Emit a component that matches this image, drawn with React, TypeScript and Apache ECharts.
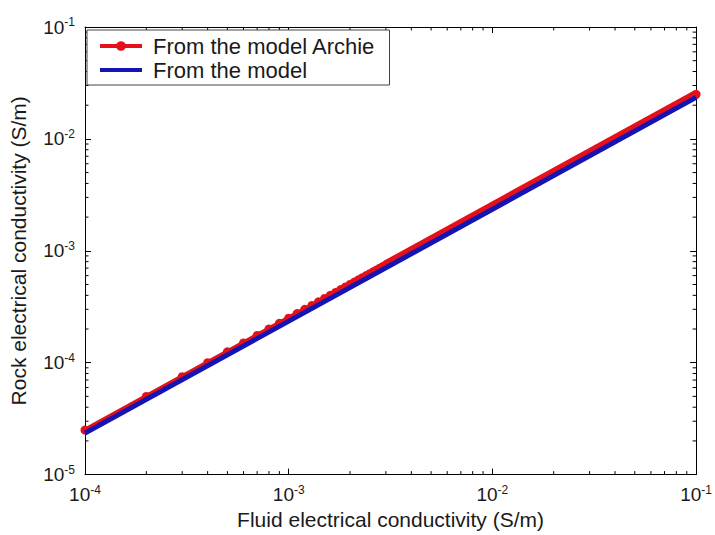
import React, { useEffect, useRef } from "react";
import * as echarts from "echarts";

// Axis bounds (decades)
const X_MIN = 1e-4;
const X_MAX = 1e-1;
const Y_MIN = 1e-5;
const Y_MAX = 1e-1;

// "From the model Archie": sampled points (markers)
const archieX = [
  0.0001, 0.0002, 0.0003, 0.0004, 0.0005, 0.0006, 0.0007, 0.0008, 0.0009, 0.001,
  0.0011, 0.0012, 0.0013, 0.0014, 0.0015, 0.0016, 0.0017, 0.0018, 0.0019, 0.002,
  0.0021, 0.0022, 0.0023, 0.0024, 0.0025, 0.0026, 0.0027, 0.0028, 0.0029, 0.003,
  0.1,
];
const archieY = [
  0.000025, 0.00005, 0.000075, 0.0001, 0.000125, 0.00015, 0.000175, 0.0002, 0.000225, 0.00025,
  0.000275, 0.0003, 0.000325, 0.00035, 0.000375, 0.0004, 0.000425, 0.00045, 0.000475, 0.0005,
  0.000525, 0.00055, 0.000575, 0.0006, 0.000625, 0.00065, 0.000675, 0.0007, 0.000725, 0.00075,
  0.025,
];
// Dense-marker band of the Archie curve (markers merge into a thick line)
const archieBandX = [0.003, 0.1];
const archieBandY = [0.00075, 0.025];

// "From the model"
const modelX = [0.0001, 0.1];
const modelY = [0.0000235, 0.0235];

// Minor tick positions
const xMinorTicks = [
  0.0002, 0.0003, 0.0004, 0.0005, 0.0006, 0.0007, 0.0008, 0.0009,
  0.002, 0.003, 0.004, 0.005, 0.006, 0.007, 0.008, 0.009,
  0.02, 0.03, 0.04, 0.05, 0.06, 0.07, 0.08, 0.09,
];
const yMinorTicks = [
  0.00002, 0.00003, 0.00004, 0.00005, 0.00006, 0.00007, 0.00008, 0.00009,
  0.0002, 0.0003, 0.0004, 0.0005, 0.0006, 0.0007, 0.0008, 0.0009,
  0.002, 0.003, 0.004, 0.005, 0.006, 0.007, 0.008, 0.009,
  0.02, 0.03, 0.04, 0.05, 0.06, 0.07, 0.08, 0.09,
];

const FONT = "'Liberation Sans', Arial, Helvetica, sans-serif";
const TXT = "#1a1a1a";
const RED = "#e5101a";
const BLUE = "#1414b4";

const zip = (a: number[], b: number[]) => a.map((v, i) => [v, b[i]]);

const expLabel = (v: number) => `{b|10}{s|${Math.round(Math.log10(v))}}`;
const labelRich = {
  b: { fontSize: 19, fontFamily: FONT, color: TXT, lineHeight: 22 },
  s: { fontSize: 12, fontFamily: FONT, color: TXT, verticalAlign: "top", lineHeight: 14 },
};

export default function App() {
  const ref = useRef<HTMLDivElement>(null);
  useEffect(() => {
    if (!ref.current) return;
    const chart = echarts.init(ref.current, null, { renderer: "svg" });

    const tickData = [
      ...xMinorTicks.map((v) => [v, Y_MIN, 0]),
      ...yMinorTicks.map((v) => [X_MIN, v, 1]),
    ];

    const commonLog = {
      type: "log" as const,
      logBase: 10,
      axisLine: { show: true, lineStyle: { color: "#000", width: 1 } },
      axisTick: { show: true, inside: true, length: 6, lineStyle: { color: "#000" } },
      splitLine: { show: false },
      minorTick: { show: false },
    };

    chart.setOption({
      animation: false,
      backgroundColor: "#fff",
      grid: { left: 80, right: 16, top: 27, bottom: 57, containLabel: false },
      legend: {
        data: [
          { name: "From the model Archie", lineStyle: { width: 4 } },
          { name: "From the model", lineStyle: { width: 4 }, itemStyle: { color: "rgba(0,0,0,0)", opacity: 0 } },
        ],
        orient: "vertical",
        left: 87,
        top: 30,
        itemWidth: 42,
        itemHeight: 12,
        itemGap: 0,
        padding: [4, 14, 3, 11],
        borderColor: "#444",
        borderWidth: 1,
        backgroundColor: "#fff",
        borderRadius: 0,
        textStyle: {
          fontSize: 22,
          fontFamily: FONT,
          color: TXT,
          lineHeight: 24,
          padding: [0, 0, 0, 6],
        },
      },
      xAxis: [
        {
          ...commonLog,
          min: X_MIN,
          max: X_MAX,
          position: "bottom",
          name: "Fluid electrical conductivity (S/m)",
          nameLocation: "middle",
          nameGap: 33,
          nameTextStyle: { fontSize: 21, fontFamily: FONT, color: TXT },
          axisLabel: { margin: 9, fontSize: 19, fontFamily: FONT, color: TXT, formatter: expLabel, rich: labelRich },
        },
        {
          ...commonLog,
          min: X_MIN,
          max: X_MAX,
          position: "top",
          axisLabel: { show: false },
        },
      ],
      yAxis: [
        {
          ...commonLog,
          min: Y_MIN,
          max: Y_MAX,
          position: "left",
          name: "Rock electrical conductivity (S/m)",
          nameLocation: "middle",
          nameGap: 56,
          nameTextStyle: { fontSize: 21, fontFamily: FONT, color: TXT },
          axisLabel: { margin: 10, fontSize: 19, fontFamily: FONT, color: TXT, formatter: expLabel, rich: labelRich },
        },
        {
          ...commonLog,
          min: Y_MIN,
          max: Y_MAX,
          position: "right",
          axisLabel: { show: false },
        },
      ],
      series: [
        {
          type: "custom",
          silent: true,
          xAxisIndex: 0,
          yAxisIndex: 0,
          data: tickData,
          encode: { x: 0, y: 1 },
          renderItem: (params: any, api: any) => {
            const cs = params.coordSys;
            const kind = api.value(2);
            const style = { stroke: "#000", lineWidth: 1 };
            if (kind === 0) {
              const p = api.coord([api.value(0), Y_MIN]);
              return {
                type: "group",
                children: [
                  { type: "line", shape: { x1: p[0], y1: cs.y + cs.height, x2: p[0], y2: cs.y + cs.height - 3.5 }, style },
                  { type: "line", shape: { x1: p[0], y1: cs.y, x2: p[0], y2: cs.y + 3.5 }, style },
                ],
              };
            }
            const p = api.coord([X_MIN, api.value(1)]);
            return {
              type: "group",
              children: [
                { type: "line", shape: { x1: cs.x, y1: p[1], x2: cs.x + 3.5, y2: p[1] }, style },
                { type: "line", shape: { x1: cs.x + cs.width, y1: p[1], x2: cs.x + cs.width - 3.5, y2: p[1] }, style },
              ],
            };
          },
          z: 1,
        },
        {
          name: "From the model Archie",
          type: "line",
          data: zip(archieX, archieY),
          symbol: "circle",
          symbolSize: 9,
          showAllSymbol: true,
          lineStyle: { color: RED, width: 5 },
          itemStyle: { color: RED },
          z: 2,
        },
        {
          name: "Archie band",
          type: "line",
          data: zip(archieBandX, archieBandY),
          symbol: "none",
          lineStyle: { color: RED, width: 9 },
          itemStyle: { color: RED },
          z: 2,
        },
        {
          name: "From the model",
          type: "line",
          data: zip(modelX, modelY),
          symbol: "none",
          lineStyle: { color: BLUE, width: 5 },
          itemStyle: { color: BLUE },
          z: 3,
        },
      ],
    });
    return () => chart.dispose();
  }, []);
  return (
    <div
      ref={ref}
      style={{ position: "fixed", left: 0, top: 0, width: 715, height: 535 }}
    />
  );
}
